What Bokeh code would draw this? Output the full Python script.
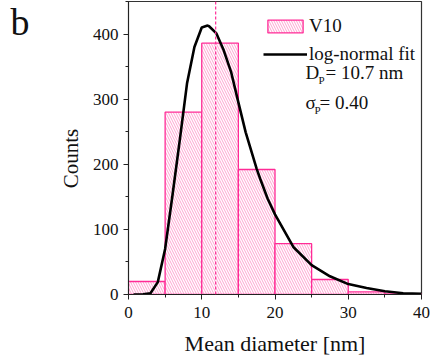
import math
from bokeh.plotting import figure
from bokeh.layouts import row
from bokeh.models import Range1d, Span, Label, Legend, LegendItem, FixedTicker
from bokeh.embed import file_html
from bokeh.resources import INLINE

# Histogram of particle mean diameters (5 nm bins)
bin_left = [0, 5, 10, 15, 20, 25, 30, 35]
bin_right = [5, 10, 15, 20, 25, 30, 35, 40]
counts = [20, 280, 386, 192, 78, 23, 4, 1]

# Log-normal fit curve
fit_x = [0.7, 2, 3, 4, 5, 6, 7, 8, 9, 10, 10.8, 11, 12, 13, 14, 15, 16, 17.5,
         18, 19, 20, 22.5, 25, 27.5, 30, 32.5, 35, 37.5, 40]
fit_y = [0, 0.5, 2, 19, 70, 152, 237, 325, 380, 410, 413, 412, 401, 375, 342,
         295, 249, 193, 177, 147, 123, 73, 45, 28, 16, 10, 5, 2, 1]

mean_diameter = 11.9

x_ticks = [0, 10, 20, 30, 40]
x_minor = [5, 15, 25, 35]
y_ticks = [0, 100, 200, 300, 400]
y_minor = [50, 150, 250, 350, 450]

PINK = "#ff2b96"
INK = "#111111"
SERIF = "Liberation Serif"

# Narrow strip on the left that carries the panel letter and the y title;
# its frame is aligned with the main frame by the row layout
side = figure(width=85, height=362, x_range=Range1d(0, 1), y_range=Range1d(0, 1),
              x_axis_type=None, y_axis_type=None,
              output_backend="svg", toolbar_location=None, min_border=0)
side.grid.visible = False
side.outline_line_color = None

p = figure(width=345, height=362, x_range=Range1d(0, 40), y_range=Range1d(0, 450),
           output_backend="svg", toolbar_location=None,
           min_border_left=43, min_border_right=9, min_border_top=1, min_border_bottom=68)
p.grid.visible = False
p.outline_line_color = "#333333"
p.outline_line_width = 1.2

bars = p.quad(left=bin_left, right=bin_right, bottom=0, top=counts,
              fill_color="white", line_color=PINK, line_width=1.3,
              hatch_pattern="\\", hatch_color=PINK, hatch_alpha=0.55,
              hatch_scale=5, hatch_weight=0.8)

p.add_layout(Span(location=mean_diameter, dimension="height", line_color=PINK,
                  line_width=1.2, line_dash="3 2"))

fit = p.line(fit_x, fit_y, line_color="black", line_width=2.6)

for ax in (p.xaxis[0], p.yaxis[0]):
    ax.axis_line_color = "#222222"
    ax.major_tick_line_color = "#222222"
    ax.minor_tick_line_color = "#222222"
    ax.major_tick_out = 5
    ax.major_tick_in = 0
    ax.minor_tick_out = 3
    ax.minor_tick_in = 0
    ax.major_label_text_font = SERIF
    ax.major_label_text_font_size = "17px"
    ax.major_label_text_color = INK

p.xaxis.ticker = FixedTicker(ticks=x_ticks, minor_ticks=x_minor)
p.yaxis.ticker = FixedTicker(ticks=y_ticks, minor_ticks=y_minor)
p.xaxis.major_label_standoff = 7
p.yaxis.major_label_standoff = 5

p.xaxis.axis_label = "Mean diameter [nm]"
p.xaxis.axis_label_text_font = SERIF
p.xaxis.axis_label_text_font_size = "22px"
p.xaxis.axis_label_text_font_style = "normal"
p.xaxis.axis_label_text_color = INK
p.xaxis.axis_label_standoff = 10

legend = Legend(items=[LegendItem(label="V10", renderers=[bars]),
                       LegendItem(label="log-normal fit", renderers=[fit])],
                location=(135, 229), padding=0, margin=0, spacing=6,
                glyph_width=44, glyph_height=16, label_height=20, label_standoff=2,
                label_text_font=SERIF, label_text_font_size="19px",
                label_text_color=INK,
                border_line_alpha=0, background_fill_alpha=0)
p.add_layout(legend)


def text(fig, x, y, s, size, angle=0.0, align="left", baseline="alphabetic"):
    fig.add_layout(Label(x=x, y=y, x_units="screen", y_units="screen", text=s,
                         text_font=SERIF, text_font_size=size, text_color=INK,
                         text_align=align, text_baseline=baseline, angle=angle))


# Fit parameters
text(p, 177, 222, "D", "19px")
text(p, 190, 215, "P", "11px")
text(p, 197, 222, "= 10.7 nm", "19px")
text(p, 177, 192, "\u03c3", "19px")
text(p, 186, 185, "P", "11px")
text(p, 191, 192, "= 0.40", "19px")

# Panel letter and y axis title
text(side, 10, 273, "b", "38px")
text(side, 70, 136, "Counts", "21px", angle=math.pi / 2, align="center", baseline="middle")

layout = row(side, p, spacing=0)
open("out.html", "w").write(file_html(layout, INLINE))
